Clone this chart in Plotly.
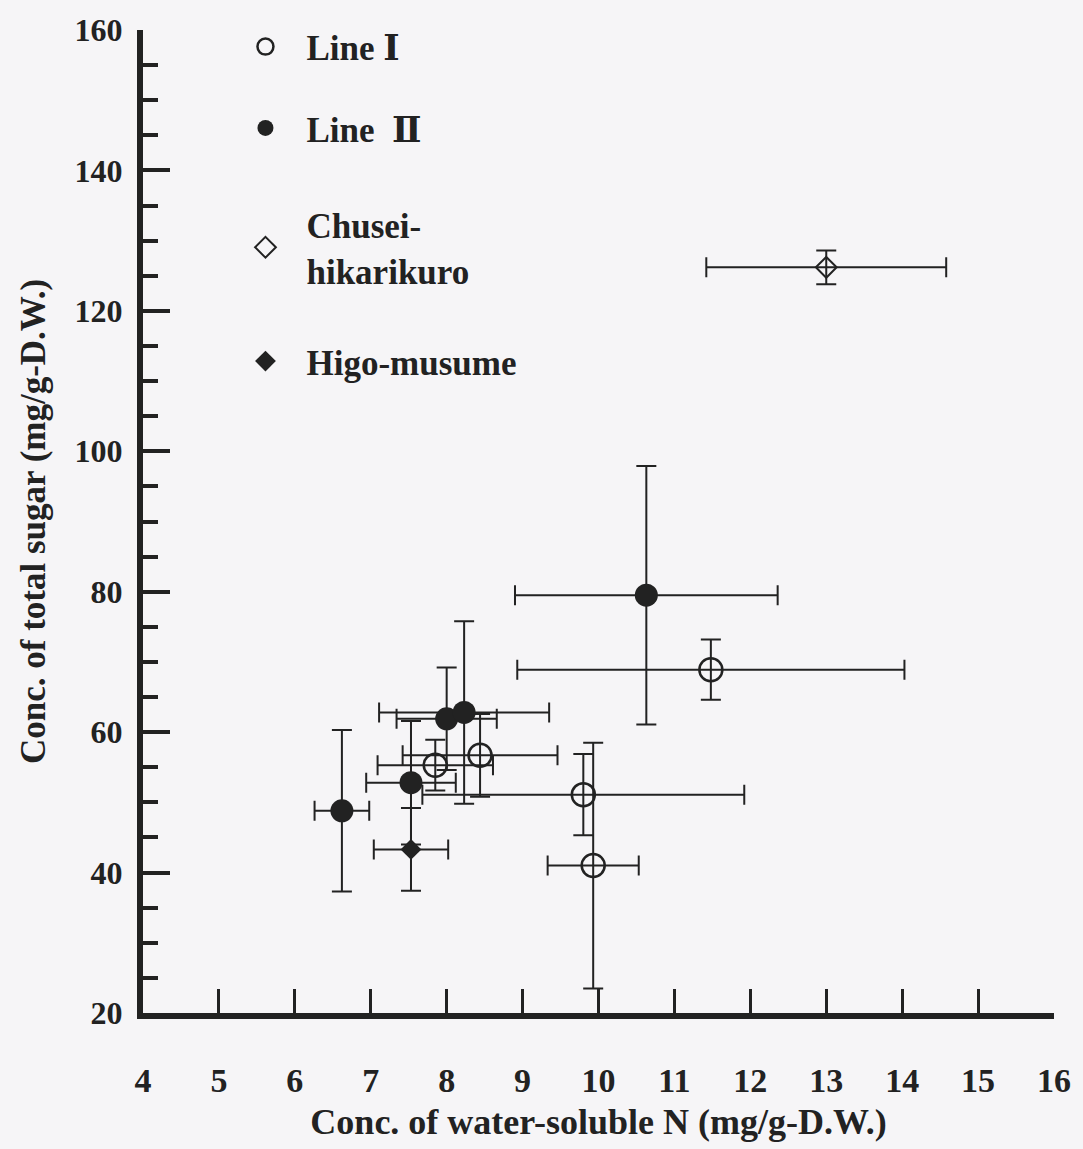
import plotly.graph_objects as go

# Line I (open circles)
line1_x = [7.85, 8.44, 9.80, 9.93, 11.48]
line1_y = [55.3, 56.7, 51.1, 41.0, 68.9]
line1_xerr = [0.76, 1.02, 2.12, 0.60, 2.55]
line1_yerr = [3.6, 5.9, 5.8, 17.5, 4.3]

# Line II (filled circles)
line2_x = [6.62, 7.53, 8.00, 8.23, 10.63]
line2_y = [48.8, 52.8, 61.9, 62.8, 79.5]
line2_xerr = [0.36, 0.59, 0.66, 1.12, 1.73]
line2_yerr = [11.5, 8.8, 7.3, 13.0, 18.4]

# Chusei-hikarikuro (open diamond)
chusei_x = [13.0]
chusei_y = [126.2]
chusei_xerr = [1.58]
chusei_yerr = [2.4]

# Higo-musume (filled diamond)
higo_x = [7.53]
higo_y = [43.3]
higo_xerr = [0.49]
higo_yerr = [5.9]

x_ticks = list(range(4, 17))
y_ticks = list(range(20, 161, 20))

INK = "#222222"
BG = "#f6f5f7"
FONT = "Liberation Serif, DejaVu Serif, serif"

def err(vals):
    return dict(type="data", array=vals, visible=True, color=INK, thickness=2, width=10)

fig = go.Figure()
fig.add_trace(go.Scatter(x=line1_x, y=line1_y, mode="markers", name="Line \u2160",
                         error_x=err(line1_xerr), error_y=err(line1_yerr),
                         marker=dict(symbol="circle-open", size=23, color=INK, line=dict(width=2.5, color=INK)),
                         legend="legend"))
fig.add_trace(go.Scatter(x=line2_x, y=line2_y, mode="markers", name="Line  \u2161",
                         error_x=err(line2_xerr), error_y=err(line2_yerr),
                         marker=dict(symbol="circle", size=23, color=INK, line=dict(width=0)),
                         legend="legend2"))
fig.add_trace(go.Scatter(x=chusei_x, y=chusei_y, mode="markers", name="Chusei-<br>hikarikuro",
                         error_x=err(chusei_xerr), error_y=err(chusei_yerr),
                         marker=dict(symbol="diamond-open", size=16, color=INK, line=dict(width=2, color=INK)),
                         legend="legend3"))
fig.add_trace(go.Scatter(x=higo_x, y=higo_y, mode="markers", name="Higo-musume",
                         error_x=err(higo_xerr), error_y=err(higo_yerr),
                         marker=dict(symbol="diamond", size=16, color=INK, line=dict(width=0)),
                         legend="legend4"))

L, R, T, B = 143, 23, 27, 131
W, H = 1083, 1149
ph = H - T - B

def leg(yc):
    return dict(x=(225 - L) / (W - L - R), y=(H - B - yc) / ph, xanchor="left", yanchor="middle",
                bgcolor="rgba(0,0,0,0)", font=dict(family=FONT, size=35, color=INK, weight="bold"),
                itemwidth=72)

fig.update_layout(
    width=W, height=H,
    margin=dict(l=L, r=R, t=T, b=B),
    paper_bgcolor=BG, plot_bgcolor=BG,
    showlegend=True,
    legend=leg(44), legend2=leg(126), legend3=leg(246), legend4=leg(361),
    xaxis=dict(range=[4, 16], tickvals=x_ticks, ticktext=[str(v) for v in x_ticks],
               showline=True, linewidth=6, linecolor=INK, showgrid=False, zeroline=False,
               ticks="inside", ticklen=24, tickwidth=3, tickcolor=INK,
               ticklabelstandoff=32,
               tickfont=dict(family=FONT, size=34, color=INK, weight="bold"),
               title=dict(text="Conc. of water-soluble N (mg/g-D.W.)", standoff=13,
                          font=dict(family=FONT, size=36, color=INK, weight="bold"))),
    yaxis=dict(range=[20, 160], tickvals=y_ticks, ticktext=[str(v) for v in y_ticks],
               showline=True, linewidth=6, linecolor=INK, showgrid=False, zeroline=False,
               ticks="inside", ticklen=27, tickwidth=4, tickcolor=INK,
               minor=dict(dtick=5, ticks="inside", ticklen=15, tickwidth=4, tickcolor=INK, showgrid=False),
               ticklabelstandoff=8,
               tickfont=dict(family=FONT, size=32, color=INK, weight="bold"),
               title=dict(text="Conc. of total sugar (mg/g-D.W.)", standoff=20,
                          font=dict(family=FONT, size=35, color=INK, weight="bold"))),
)

fig.write_html("out.html")
